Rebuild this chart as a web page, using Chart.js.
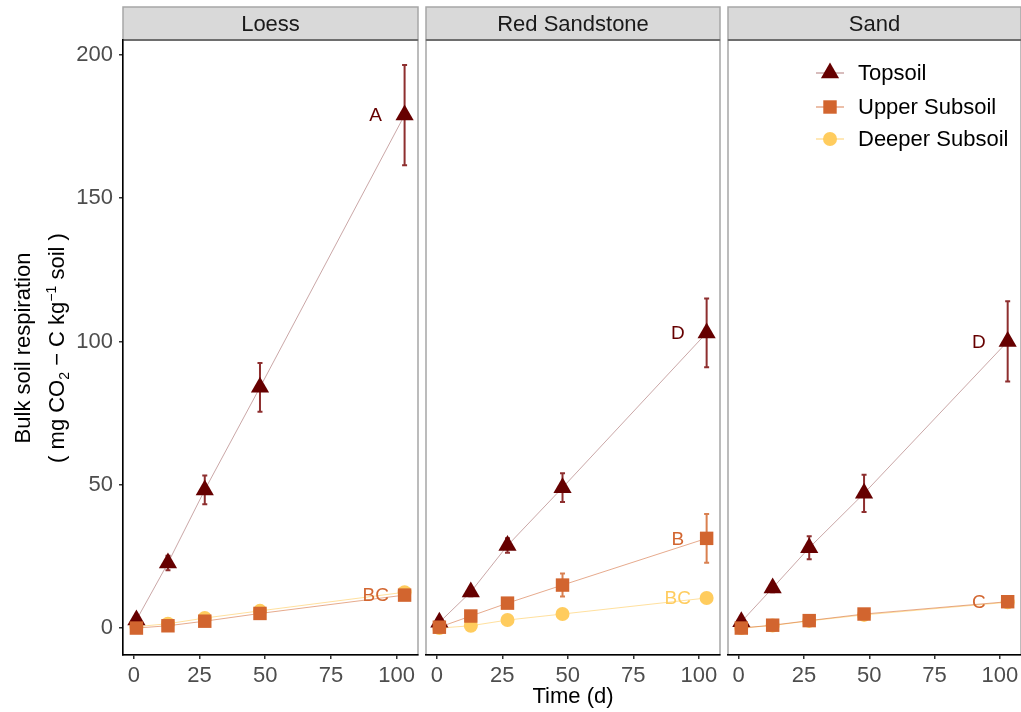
<!DOCTYPE html>
<html>
<head>
<meta charset="utf-8">
<script src="https://cdn.jsdelivr.net/npm/chart.js@4.4.1/dist/chart.umd.min.js"></script>
<style>
  body { margin: 0; background: #fff; width: 1021px; height: 712px; position: relative; overflow: hidden;
         font-family: "Liberation Sans", Arial, sans-serif; }
  canvas { position: absolute; top: 0; }
  .ytitle { position: absolute; top: 348px; white-space: nowrap; font-size: 22px; line-height: 1; color: #000;
            transform: translate(-50%, -50%) rotate(-90deg); }
  sub, sup { font-size: 14px; line-height: 0; }
</style>
</head>
<body>
<canvas id="p0" width="420" height="712" style="left:0"></canvas>
<canvas id="p1" width="304" height="712" style="left:420px"></canvas>
<canvas id="p2" width="297" height="712" style="left:724px"></canvas>
<div class="ytitle" style="left:23px">Bulk soil respiration</div>
<div class="ytitle" style="left:57px">( mg CO<sub>2</sub> − C kg<sup>−1</sup> soil )</div>
<script>
// incubation days
const days = [1, 13, 27, 48, 103];
const depthNames = ['Topsoil', 'Upper Subsoil', 'Deeper Subsoil'];
const yTicks = [0, 50, 100, 150, 200];
const xTicks = [0, 25, 50, 75, 100];

// Loess
const loessTop = [2.8, 22.7, 48.2, 84, 179];
const loessTopErr = [1, 2.5, 5, 8.5, 17.5];
const loessUpper = [0, 0.8, 2.4, 5.1, 11.5];
const loessUpperErr = [0.3, 0.5, 0.8, 1, 1];
const loessDeeper = [0.5, 1.5, 3.5, 6, 12.5];
const loessDeeperErr = [0.3, 0.5, 0.8, 1, 1];
const loessLetters = ['A', 'BC', ''];

// Red Sandstone
const rsTop = [2, 12.6, 28.8, 49, 103];
const rsTopErr = [1, 1.5, 2.5, 5, 12];
const rsUpper = [0.3, 4.2, 8.7, 15, 31.3];
const rsUpperErr = [0.5, 1, 1.5, 4, 8.5];
const rsDeeper = [0, 0.8, 2.8, 4.9, 10.5];
const rsDeeperErr = [0.3, 0.3, 0.5, 0.5, 1];
const rsLetters = ['D', 'B', 'BC'];

// Sand
const sandTop = [2.2, 14, 28, 47, 100];
const sandTopErr = [1, 1.5, 4, 6.5, 14];
const sandUpper = [0, 1, 2.6, 4.9, 9.2];
const sandUpperErr = [0.3, 0.5, 0.8, 1, 1];
const sandDeeper = [0, 0.9, 2.5, 4.6, 9];
const sandDeeperErr = [0.3, 0.5, 0.8, 1, 1];
const sandLetters = ['D', 'C', ''];

const FONT = '"Liberation Sans", Arial, sans-serif';
Chart.defaults.font.family = FONT;

const colors = ['#660000', '#D2652F', '#FFCC5E'];
const lineColors = ['rgba(102,0,0,0.35)', 'rgba(210,101,47,0.55)', 'rgba(255,204,94,0.6)'];
const errColors = ['#8E2F2F', '#D98050', '#FFD37A'];
const styles = ['triangle', 'rect', 'circle'];
const radii = [10.5, 9.5, 7];
const orders = [1, 0, 2];

const facetDeco = {
  id: 'facetDeco',
  beforeDraw(chart, args, o) {
    const {ctx, chartArea: a} = chart;
    ctx.save();
    ctx.strokeStyle = '#A6A6A6';
    ctx.lineWidth = 1.5;
    ctx.strokeRect(a.left, a.top, a.right - a.left, a.bottom - a.top);
    ctx.fillStyle = '#D9D9D9';
    ctx.fillRect(a.left, 7, a.right - a.left, 33);
    ctx.strokeRect(a.left, 7, a.right - a.left, 33);
    ctx.strokeStyle = '#6E6E6E';
    ctx.lineWidth = 2;
    ctx.beginPath();
    ctx.moveTo(a.left, 40); ctx.lineTo(a.right, 40);
    ctx.stroke();
    ctx.fillStyle = '#1A1A1A';
    ctx.font = '22px ' + FONT;
    ctx.textAlign = 'center';
    ctx.textBaseline = 'middle';
    ctx.fillText(o.title, (a.left + a.right) / 2, 25);
    ctx.restore();
  }
};

const errorBars = {
  id: 'errorBars',
  beforeDatasetsDraw(chart) {
    const {ctx, scales: {x, y}} = chart;
    ctx.save();
    ctx.lineWidth = 2;
    chart.data.datasets.forEach(ds => {
      ctx.strokeStyle = ds.errColor;
      ds.data.forEach((p, j) => {
        const e = ds.errors[j];
        const px = x.getPixelForValue(p.x);
        const lo = y.getPixelForValue(p.y - e), hi = y.getPixelForValue(p.y + e);
        ctx.beginPath();
        ctx.moveTo(px, lo); ctx.lineTo(px, hi);
        ctx.moveTo(px - 2.5, lo); ctx.lineTo(px + 2.5, lo);
        ctx.moveTo(px - 2.5, hi); ctx.lineTo(px + 2.5, hi);
        ctx.stroke();
      });
    });
    ctx.restore();
  },
  afterDatasetsDraw(chart) {
    const {ctx, scales: {x, y}} = chart;
    ctx.save();
    ctx.font = '19px ' + FONT;
    ctx.textAlign = 'center';
    ctx.textBaseline = 'middle';
    chart.data.datasets.forEach(ds => {
      if (!ds.letter) return;
      const last = ds.data[ds.data.length - 1];
      ctx.fillStyle = ds.pointBackgroundColor;
      ctx.fillText(ds.letter, x.getPixelForValue(92), y.getPixelForValue(last.y) + 1);
    });
    ctx.restore();
  }
};

const legendBox = {
  id: 'legendBox',
  afterDraw(chart, args, o) {
    if (!o.show) return;
    const ctx = chart.ctx;
    const rows = [73, 107, 139];
    ctx.save();
    depthNames.forEach((name, k) => {
      const y = rows[k];
      ctx.strokeStyle = lineColors[k];
      ctx.lineWidth = 1.5;
      ctx.beginPath();
      ctx.moveTo(92, y); ctx.lineTo(120, y);
      ctx.stroke();
      ctx.fillStyle = colors[k];
      Chart.helpers.drawPoint(ctx, {pointStyle: styles[k], radius: radii[k], rotation: 0, borderWidth: 0}, 106, y);
      ctx.fillStyle = '#000';
      ctx.font = '22px ' + FONT;
      ctx.textAlign = 'left';
      ctx.textBaseline = 'middle';
      ctx.fillText(name, 134, y + 1);
    });
    ctx.restore();
  }
};

function makeSets(vals, errs, letters) {
  return vals.map((v, k) => ({
    label: depthNames[k],
    data: days.map((d, j) => ({x: d, y: v[j]})),
    borderColor: lineColors[k],
    borderWidth: 1,
    pointStyle: styles[k],
    pointRadius: radii[k],
    pointBackgroundColor: colors[k],
    pointBorderWidth: 0,
    tension: 0,
    order: orders[k],
    errors: errs[k],
    errColor: errColors[k],
    letter: letters[k]
  }));
}

function axisGrid() {
  return {display: true, drawOnChartArea: false, drawTicks: true, tickLength: 4, color: '#333', lineWidth: 1.5};
}

function makePanel(id, title, sets, padding, showY, showXTitle, showLegend) {
  new Chart(document.getElementById(id), {
    type: 'line',
    data: {datasets: sets},
    options: {
      responsive: false,
      animation: false,
      events: [],
      layout: {padding: padding, autoPadding: false},
      plugins: {
        legend: {display: false},
        tooltip: {enabled: false},
        facetDeco: {title: title},
        legendBox: {show: showLegend}
      },
      scales: {
        x: {
          type: 'linear', position: 'bottom', min: -4.1, max: 108.1,
          afterBuildTicks: s => { s.ticks = xTicks.map(v => ({value: v})); },
          afterFit: s => { s.height = 57; s.paddingLeft = 0; s.paddingRight = 0; },
          grid: axisGrid(),
          border: {display: true, color: '#000', width: 1.5},
          ticks: {font: {size: 22}, color: '#4D4D4D', padding: 4, maxRotation: 0, autoSkip: false},
          title: {display: showXTitle, text: 'Time (d)', color: '#000', font: {size: 22}, padding: {top: 0, bottom: 2}}
        },
        y: {
          type: 'linear', position: 'left', display: showY, min: -9.4, max: 205.2,
          afterBuildTicks: s => { s.ticks = yTicks.map(v => ({value: v})); },
          afterFit: s => { s.width = showY ? 123 : 0; s.paddingTop = 0; s.paddingBottom = 0; },
          grid: axisGrid(),
          border: {display: true, color: '#000', width: 1.5},
          ticks: {font: {size: 22}, color: '#4D4D4D', padding: 6}
        }
      }
    },
    plugins: [facetDeco, errorBars, legendBox]
  });
}

makePanel('p0', 'Loess',
  makeSets([loessTop, loessUpper, loessDeeper], [loessTopErr, loessUpperErr, loessDeeperErr], loessLetters),
  {top: 40, left: 0, right: 2, bottom: 0}, true, false, false);
makePanel('p1', 'Red Sandstone',
  makeSets([rsTop, rsUpper, rsDeeper], [rsTopErr, rsUpperErr, rsDeeperErr], rsLetters),
  {top: 40, left: 6, right: 4, bottom: 0}, false, true, false);
makePanel('p2', 'Sand',
  makeSets([sandTop, sandUpper, sandDeeper], [sandTopErr, sandUpperErr, sandDeeperErr], sandLetters),
  {top: 40, left: 4, right: 0, bottom: 0}, false, false, true);
</script>
</body>
</html>
